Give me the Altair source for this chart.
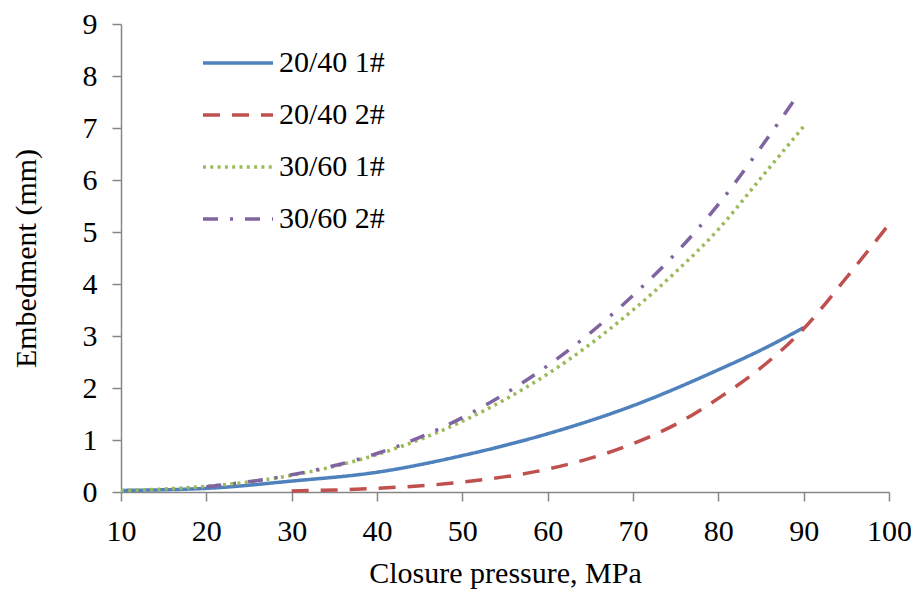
import altair as alt
import pandas as pd

# ---- data ----
s1_name = "20/40 1#"
s1_x = [10, 20, 30, 40, 50, 60, 70, 80, 85, 90]
s1_y = [0.03, 0.07, 0.21, 0.38, 0.70, 1.12, 1.66, 2.35, 2.73, 3.16]

s2_name = "20/40 2#"
s2_x = [30, 40, 50, 60, 70, 75, 80, 85, 90, 95, 100]
s2_y = [0.02, 0.07, 0.19, 0.44, 0.93, 1.30, 1.80, 2.39, 3.14, 4.12, 5.15]

s3_name = "30/60 1#"
s3_x = [10, 20, 30, 40, 50, 60, 70, 75, 80, 85, 90]
s3_y = [0.03, 0.11, 0.32, 0.72, 1.36, 2.27, 3.50, 4.23, 5.05, 6.04, 7.03]

s4_name = "30/60 2#"
s4_x = [20, 30, 40, 50, 60, 70, 75, 80, 85, 89]
s4_y = [0.10, 0.33, 0.74, 1.43, 2.43, 3.78, 4.59, 5.53, 6.63, 7.56]

series_names = [s1_name, s2_name, s3_name, s4_name]
series_colors = ["#4F81BD", "#C0504D", "#9BBB59", "#8064A2"]
series_dashes = [[1, 0], [17, 12], [3, 4.3], [15, 12, 3, 12]]

x_ticks = [10, 20, 30, 40, 50, 60, 70, 80, 90, 100]
y_ticks = [0, 1, 2, 3, 4, 5, 6, 7, 8, 9]

rows = []
for name, xs, ys in [(s1_name, s1_x, s1_y), (s2_name, s2_x, s2_y),
                     (s3_name, s3_x, s3_y), (s4_name, s4_x, s4_y)]:
    for i, (xv, yv) in enumerate(zip(xs, ys)):
        rows.append({"series": name, "pressure": xv, "embed": yv, "order": i})
df = pd.DataFrame(rows)

FONT = "Liberation Serif"

legend_kw = dict(title=None, orient="none", legendX=80, legendY=2,
                 symbolType="stroke", symbolSize=4900, symbolStrokeWidth=3.5,
                 labelFontSize=30, labelFont=FONT, labelColor="black",
                 labelOffset=4, rowPadding=-1, padding=0)

chart = alt.Chart(df).mark_line(strokeWidth=3.5, interpolate="monotone").encode(
    x=alt.X("pressure:Q",
            scale=alt.Scale(domain=[10, 100], nice=False, zero=False),
            axis=alt.Axis(values=x_ticks, title="Closure pressure, MPa",
                          grid=False, tickSize=9, labelPadding=15,
                          titlePadding=12, labelFlush=False)),
    y=alt.Y("embed:Q",
            scale=alt.Scale(domain=[0, 9], nice=False),
            axis=alt.Axis(values=y_ticks, title="Embedment (mm)",
                          grid=False, tickSize=9, labelPadding=15,
                          titlePadding=41)),
    color=alt.Color("series:N",
                    scale=alt.Scale(domain=series_names, range=series_colors),
                    legend=alt.Legend(**legend_kw)),
    strokeDash=alt.StrokeDash("series:N",
                              scale=alt.Scale(domain=series_names, range=series_dashes),
                              legend=alt.Legend(**legend_kw)),
    order="order:Q",
).properties(
    width=768, height=468,
    autosize=alt.AutoSizeParams(type="none"),
    padding={"left": 113, "top": 16, "right": 22, "bottom": 100},
).configure(
    background="white",
    font=FONT,
).configure_view(
    stroke=None,
).configure_axis(
    labelFont=FONT, titleFont=FONT,
    labelFontSize=30, titleFontSize=30,
    labelColor="black", titleColor="black",
    titleFontWeight="normal",
    domainColor="#868686", tickColor="#868686",
    domainWidth=1.5, tickWidth=1.5,
)

chart.save("out.html", embed_options={"renderer": "svg", "actions": False})
